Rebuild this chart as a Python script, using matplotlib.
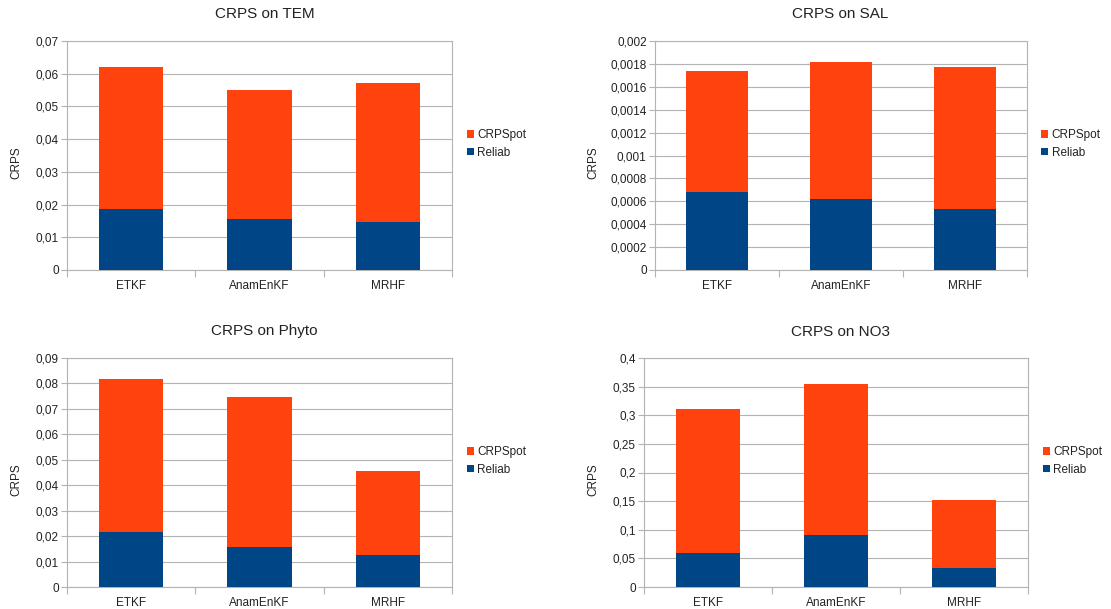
import matplotlib
matplotlib.use("Agg")
import matplotlib.pyplot as plt
from matplotlib.ticker import FixedLocator, FuncFormatter, NullFormatter

plt.rcParams['font.family'] = ['Liberation Sans', 'DejaVu Sans']

methods = ["ETKF", "AnamEnKF", "MRHF"]

# CRPS decomposition per variable: reliability part and potential part
tem_reliab = [0.0186, 0.0155, 0.0147]
tem_crpspot = [0.0433, 0.0395, 0.0426]

sal_reliab = [0.000683, 0.000619, 0.000537]
sal_crpspot = [0.001057, 0.001197, 0.001233]

phyto_reliab = [0.0218, 0.0157, 0.0127]
phyto_crpspot = [0.0600, 0.0589, 0.0330]

no3_reliab = [0.0594, 0.0902, 0.0332]
no3_crpspot = [0.2516, 0.2648, 0.1188]

# y-axis ticks for each panel
tem_ticks = [0, 0.01, 0.02, 0.03, 0.04, 0.05, 0.06, 0.07]
sal_ticks = [0, 0.0002, 0.0004, 0.0006, 0.0008, 0.001, 0.0012, 0.0014,
             0.0016, 0.0018, 0.002]
phyto_ticks = [0, 0.01, 0.02, 0.03, 0.04, 0.05, 0.06, 0.07, 0.08, 0.09]
no3_ticks = [0, 0.05, 0.1, 0.15, 0.2, 0.25, 0.3, 0.35, 0.4]

ORANGE = "#ff420e"
BLUE = "#004586"
GRID = "#b3b3b3"
TEXT = "#222222"

W, H = 1111, 609
fig = plt.figure(figsize=(W / 100, H / 100), dpi=100)


def comma(v, _pos=None):
    if abs(v) < 1e-12:
        return "0"
    return ("%g" % v).replace(".", ",")


panels = [
    ("CRPS on TEM", tem_reliab, tem_crpspot, tem_ticks,
     [67, 41, 385, 229], 0.514, -0.132),
    ("CRPS on SAL", sal_reliab, sal_crpspot, sal_ticks,
     [655, 41, 372, 229], 0.497, -0.167),
    ("CRPS on Phyto", phyto_reliab, phyto_crpspot, phyto_ticks,
     [67, 358, 385, 229], 0.512, -0.132),
    ("CRPS on NO3", no3_reliab, no3_crpspot, no3_ticks,
     [644, 358, 384, 229], 0.512, -0.133),
]

for title, reliab, pot, ticks, (px, py, pw, ph), tx, lx in panels:
    ax = fig.add_axes([px / W, (H - py - ph) / H, pw / W, ph / H])
    x = list(range(len(methods)))
    b1 = ax.bar(x, reliab, width=0.5, color=BLUE, zorder=3, label="Reliab")
    b2 = ax.bar(x, pot, width=0.5, bottom=reliab, color=ORANGE, zorder=3,
                label="CRPSpot")

    ax.set_xlim(-0.5, len(methods) - 0.5)
    ax.set_ylim(ticks[0], ticks[-1])

    ax.yaxis.set_major_locator(FixedLocator(ticks))
    ax.yaxis.set_major_formatter(FuncFormatter(comma))
    ax.grid(axis="y", color=GRID, linewidth=0.8, zorder=0)

    # boundary ticks between categories, labels centred on the bars
    ax.xaxis.set_major_locator(FixedLocator([i - 0.5 for i in range(len(methods) + 1)]))
    ax.xaxis.set_major_formatter(NullFormatter())
    ax.xaxis.set_minor_locator(FixedLocator(x))
    ax.set_xticklabels(methods, minor=True)

    ax.tick_params(axis="x", which="major", length=5, width=0.8, color=GRID,
                   direction="out")
    ax.tick_params(axis="x", which="minor", length=0, pad=7.5,
                   labelsize=8.5, labelcolor=TEXT)
    ax.tick_params(axis="y", length=4, width=0.8, color=GRID, pad=2,
                   labelsize=8.5, labelcolor=TEXT)

    for s in ax.spines.values():
        s.set_color(GRID)
        s.set_linewidth(0.8)

    ax.set_ylabel("CRPS", fontsize=8.5, color=TEXT, va="center")
    ax.yaxis.set_label_coords(lx, 0.467)

    ax.text(tx, 1 + 26.5 / ph, title, transform=ax.transAxes, ha="center",
            va="center", fontsize=11, color=TEXT)

    ax.legend([b2, b1], ["CRPSpot", "Reliab"], loc="center left",
              bbox_to_anchor=(1.038, 0.55), frameon=False, borderpad=0,
              borderaxespad=0, handlelength=0.6, handleheight=0.6,
              handletextpad=0.3, labelspacing=0.45, fontsize=8.5,
              labelcolor=TEXT)

fig.savefig("out.png", dpi=100, facecolor="white")
